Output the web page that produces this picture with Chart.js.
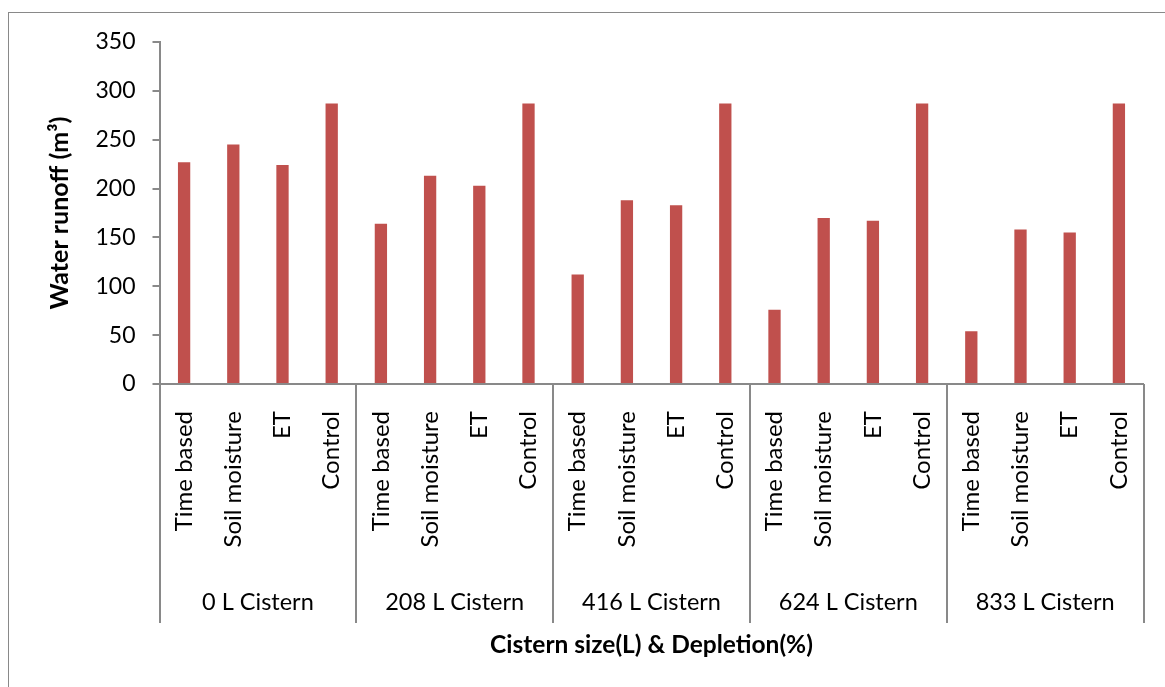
<!DOCTYPE html>
<html>
<head>
<meta charset="utf-8">
<script src="https://cdn.jsdelivr.net/npm/chart.js@4"></script>
<style>
  html, body { margin: 0; padding: 0; background: #fff; }
  #wrap { width: 1165px; height: 687px; }
</style>
</head>
<body>
<div id="wrap"><canvas id="runoffChart"></canvas></div>
<script>
// irrigation methods, repeated for each cistern size
const methods = ["Time based", "Soil moisture", "ET", "Control"];
const cisterns = ["0 L Cistern", "208 L Cistern", "416 L Cistern", "624 L Cistern", "833 L Cistern"];

// runoff (m3) per cistern, in the order of methods
const runoff0 = [227, 245, 224, 287];
const runoff208 = [164, 213, 203, 287];
const runoff416 = [112, 188, 183, 287];
const runoff624 = [76, 170, 167, 287];
const runoff833 = [54, 158, 155, 287];

const yTicks = [0, 50, 100, 150, 200, 250, 300, 350];

const labels = cisterns.flatMap(() => methods);
const values = [runoff0, runoff208, runoff416, runoff624, runoff833].flat();

const axisGray = "#898989";
const font = "Lato";

// group separators + cistern names under the method labels, plus the outer frame
const cisternGroups = {
  id: "cisternGroups",
  beforeDraw(chart) {
    const ctx = chart.ctx;
    ctx.save();
    ctx.strokeStyle = axisGray;
    ctx.lineWidth = 1;
    ctx.strokeRect(8.5, 12.5, chart.width, chart.height);
    ctx.restore();
  },
  afterDraw(chart) {
    const { ctx, chartArea } = chart;
    const x = chart.scales.x;
    const n = methods.length;
    const edges = [];
    for (let g = 0; g <= cisterns.length; g++) {
      if (g === 0) edges.push(x.left);
      else if (g === cisterns.length) edges.push(x.right);
      else edges.push((x.getPixelForValue(g * n - 1) + x.getPixelForValue(g * n)) / 2);
    }
    const top = chartArea.bottom;
    const bottom = top + 239;
    ctx.save();
    ctx.strokeStyle = axisGray;
    ctx.lineWidth = 2;
    edges.forEach(px => {
      ctx.beginPath();
      ctx.moveTo(Math.round(px), top);
      ctx.lineTo(Math.round(px), bottom);
      ctx.stroke();
    });
    ctx.fillStyle = "#000";
    ctx.font = "23.5px " + font;
    ctx.textAlign = "center";
    ctx.textBaseline = "middle";
    cisterns.forEach((name, g) => {
      ctx.fillText(name, (edges[g] + edges[g + 1]) / 2, top + 218);
    });
    ctx.restore();
  }
};

new Chart(document.getElementById("runoffChart"), {
  type: "bar",
  data: {
    labels: labels,
    datasets: [{
      label: "Water runoff",
      data: values,
      backgroundColor: "#C0504D",
      barPercentage: 0.25,
      categoryPercentage: 1
    }]
  },
  options: {
    responsive: true,
    maintainAspectRatio: false,
    animation: false,
    layout: { padding: { top: 42, right: 21.5, bottom: 0, left: 0 } },
    plugins: { legend: { display: false }, tooltip: { enabled: false } },
    scales: {
      x: {
        grid: { display: false, drawTicks: false },
        border: { color: axisGray, width: 2 },
        ticks: {
          color: "#000",
          font: { family: font, size: 24 },
          autoSkip: false,
          minRotation: 90,
          maxRotation: 90,
          padding: 27
        },
        title: {
          display: true,
          text: "Cistern size(L) & Depletion(%)",
          color: "#000",
          font: { family: font, size: 24.5, weight: "bold" },
          padding: { top: 0, bottom: 27 }
        },
        afterFit(scale) {
          scale.height = 303;
          scale.paddingLeft = 0;
          scale.paddingRight = 0;
        }
      },
      y: {
        min: 0,
        max: 350,
        afterBuildTicks(scale) { scale.ticks = yTicks.map(v => ({ value: v })); },
        grid: { drawOnChartArea: false, color: axisGray, tickLength: 7, lineWidth: 2 },
        border: { color: axisGray, width: 2 },
        ticks: {
          color: "#000",
          font: { family: font, size: 23 },
          padding: 17
        },
        title: {
          display: true,
          text: "Water runoff (m³)",
          color: "#000",
          font: { family: font, size: 25, weight: "bold" },
          padding: { top: 45, bottom: 0 }
        },
        afterFit(scale) { scale.width = 159.5; }
      }
    }
  },
  plugins: [cisternGroups]
});
</script>
</body>
</html>
